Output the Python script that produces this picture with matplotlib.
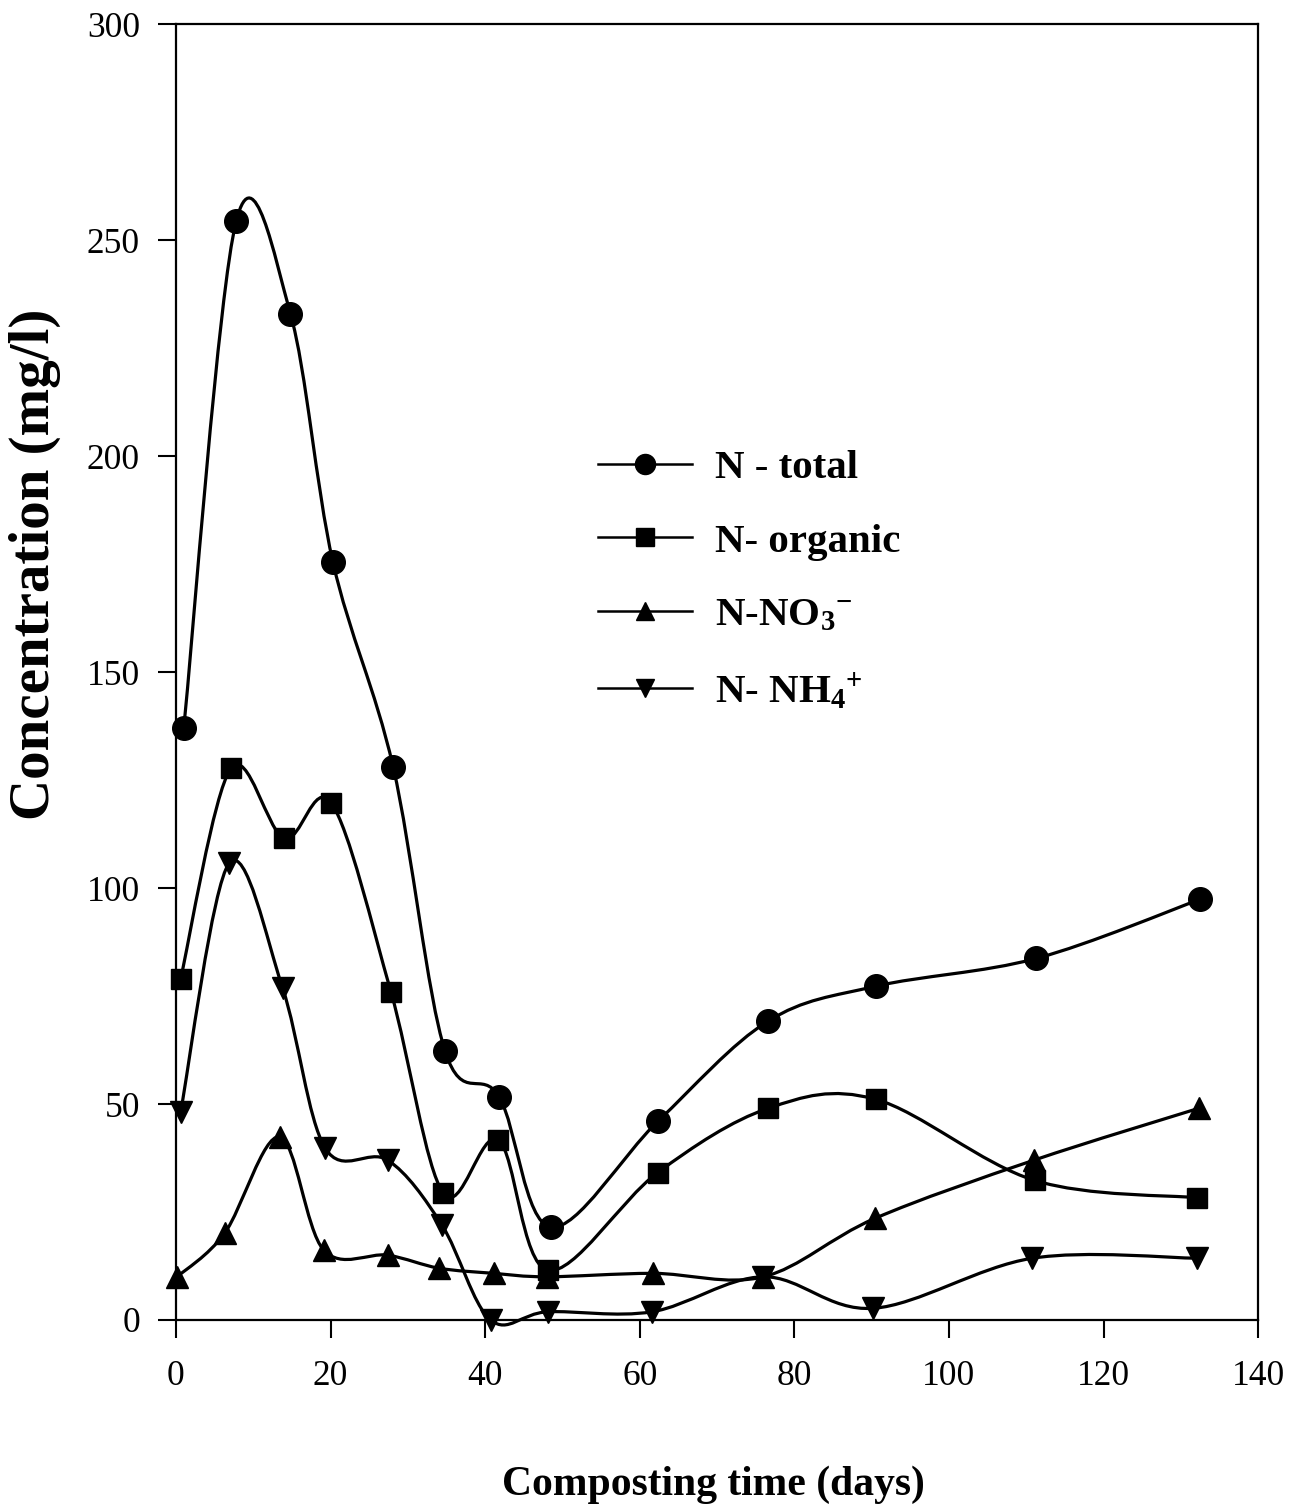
import numpy as np
import matplotlib
matplotlib.use("Agg")
import matplotlib.pyplot as plt
from matplotlib.path import Path
from matplotlib.patches import PathPatch
from matplotlib.lines import Line2D

# values
days_total = [1, 7.8, 14.8, 20.3, 28.1, 34.8, 41.8, 48.5, 62.4, 76.6, 90.6, 111.3, 132.5]
n_total = [137, 254.5, 233, 175.5, 128, 62.3, 51.7, 21.5, 46.1, 69.2, 77.3, 83.7, 97.4]

days_org = [0.6, 7.1, 14, 20.1, 27.8, 34.6, 41.7, 48.1, 62.3, 76.6, 90.5, 111.1, 132.1]
n_organic = [79, 127.7, 111.5, 119.7, 76, 29.3, 41.7, 11.5, 34.1, 49, 51.1, 32.3, 28.3]

days_no3 = [0.15, 6.3, 13.4, 19.1, 27.4, 34, 41.1, 48, 61.7, 76, 90.4, 111, 132.3]
n_no3 = [10, 20.1, 42.4, 16.2, 15, 12, 10.8, 10, 10.8, 10, 23.5, 37, 49]

days_nh4 = [0.6, 6.9, 13.8, 19.3, 27.4, 34.4, 40.7, 48.1, 61.6, 76, 90.2, 110.8, 132.1]
n_nh4 = [48.2, 105.8, 76.8, 39.8, 37, 22, 0, 1.9, 1.9, 10, 2.7, 14.3, 14.3]

labels = ["N - total", "N- organic", r"N-NO$_\mathregular{3}{}^\mathregular{-}$",
          r"N- NH$_\mathregular{4}{}^\mathregular{+}$"]
markers = ["o", "s", "^", "v"]
sizes = [17, 14.5, 15.5, 15.5]

plt.rcParams["font.family"] = ["Liberation Serif", "DejaVu Serif"]
plt.rcParams["mathtext.fontset"] = "custom"
plt.rcParams["mathtext.rm"] = "Liberation Serif:bold"
plt.rcParams["mathtext.it"] = "Liberation Serif:bold"
plt.rcParams["mathtext.bf"] = "Liberation Serif:bold"


def smooth_path(x, y):
    """Catmull-Rom style bezier through the points (like a smoothed line)"""
    pts = np.column_stack([x, y]).astype(float)
    n = len(pts)
    verts = [pts[0]]
    codes = [Path.MOVETO]
    for i in range(n - 1):
        p0 = pts[i - 1] if i > 0 else pts[i]
        p1 = pts[i]
        p2 = pts[i + 1]
        p3 = pts[i + 2] if i + 2 < n else pts[i + 1]
        c1 = p1 + (p2 - p0) / 6.0
        c2 = p2 - (p3 - p1) / 6.0
        verts += [c1, c2, p2]
        codes += [Path.CURVE4] * 3
    return Path(verts, codes)


fig = plt.figure(figsize=(12.96, 15.12), dpi=100)
ax = fig.add_axes([0.1358, 0.127, 0.835, 0.857])

series = [(days_total, n_total), (days_org, n_organic),
          (days_no3, n_no3), (days_nh4, n_nh4)]
handles = []
for (x, y), m, ms, lab in zip(series, markers, sizes, labels):
    ax.add_patch(PathPatch(smooth_path(x, y), fill=False, lw=2.3,
                           edgecolor="black", clip_on=False))
    ax.plot(x, y, ls="none", marker=m, ms=ms, color="black", clip_on=False,
            zorder=3)
    handles.append(Line2D([], [], color="black", lw=1.8, marker=m,
                          ms=ms * 0.85, label=lab))

ax.set_xlim(0, 140)
ax.set_ylim(0, 300)
ax.set_xticks(range(0, 141, 20))
ax.set_yticks(range(0, 301, 50))
ax.tick_params(direction="out", length=13, width=1.5, labelsize=25.5)
ax.tick_params(axis="x", pad=16)
ax.tick_params(axis="y", pad=13)
for s in ax.spines.values():
    s.set_linewidth(1.6)

ax.set_xlabel("Composting time (days)", fontsize=30, fontweight="bold",
              va="center")
ax.xaxis.set_label_coords(0.497, -0.127)
ax.set_ylabel("Concentration (mg/l)", fontsize=41, fontweight="bold",
              va="center")
ax.yaxis.set_label_coords(-0.13, 0.583)

leg = ax.legend(handles=handles, loc="upper left",
                bbox_to_anchor=(0.39, 0.672), frameon=False,
                prop={"weight": "bold", "size": 29.5}, handlelength=2.3,
                handletextpad=0.55, labelspacing=0.88, borderpad=0,
                borderaxespad=0)

fig.savefig("out.png", dpi=100)
